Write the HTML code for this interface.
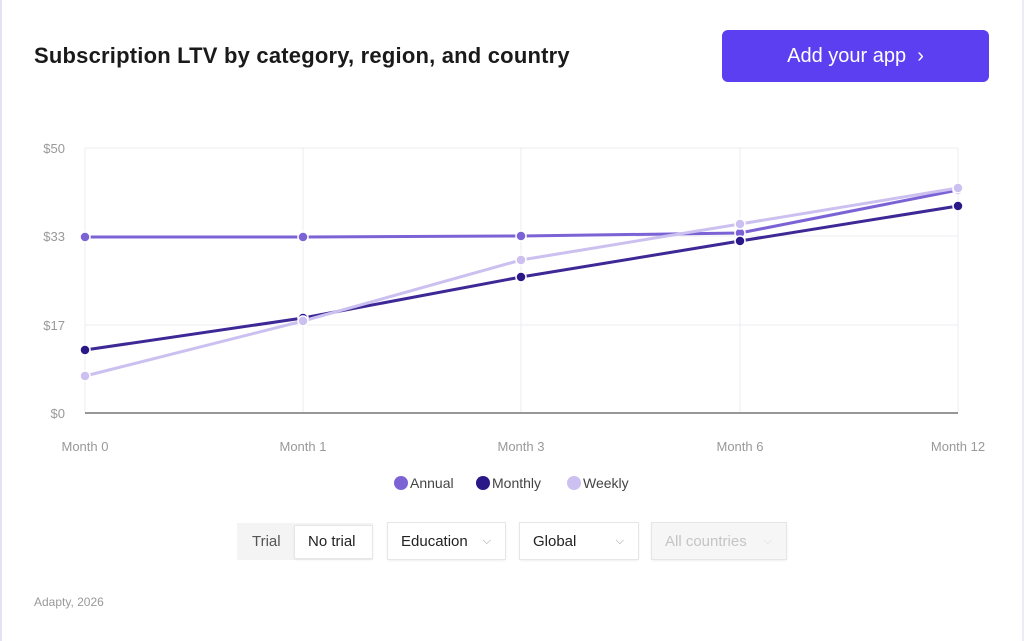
<!DOCTYPE html>
<html><head><style>
body{margin:0;width:1024px;height:641px;background:#fff;font-family:"Liberation Sans",sans-serif;position:relative;overflow:hidden}
.t{position:absolute;left:34px;top:43px;font-size:22px;font-weight:bold;color:#1a1a1a;letter-spacing:0.2px}
.btn{position:absolute;left:722px;top:30px;width:267px;height:52px;background:#5b3ff0;border-radius:6px;color:#fff;font-size:20px;text-align:center;line-height:52px}
.ctl{position:absolute;top:523px;height:36px;line-height:37px;font-size:15px;color:#222;background:#fff;box-shadow:0 0 0 1px #e6e6e6,0 1px 3px rgba(0,0,0,.12);box-sizing:border-box;padding-left:13px}
.chev{position:absolute;right:14px;top:0;color:#999;font-size:11px}
.lg{position:absolute;top:475px;font-size:14px;color:#444}
.dot{display:inline-block;width:14px;height:14px;border-radius:50%;vertical-align:-2px;margin-right:2px}
</style></head><body>
<div style="position:absolute;left:0;top:0;width:2px;height:641px;background:#e6e2f5"></div>
<div style="position:absolute;right:0;top:0;width:2px;height:641px;background:#eeeaf8"></div>
<div class="t">Subscription LTV by category, region, and country</div>
<div class="btn">Add your app &nbsp;›</div>
<svg width="1024" height="641" style="position:absolute;left:0;top:0" font-family="Liberation Sans" font-size="13" fill="#999">
<g stroke="#ececf0" stroke-width="1">
<line x1="85" y1="148" x2="958" y2="148"/><line x1="85" y1="236" x2="958" y2="236"/><line x1="85" y1="325" x2="958" y2="325"/>
<line x1="85" y1="148" x2="85" y2="413"/><line x1="303" y1="148" x2="303" y2="413"/><line x1="521" y1="148" x2="521" y2="413"/><line x1="740" y1="148" x2="740" y2="413"/><line x1="958" y1="148" x2="958" y2="413"/>
</g>
<line x1="85" y1="413" x2="958" y2="413" stroke="#777" stroke-width="1.5"/>
<g text-anchor="end"><text x="65" y="153">$50</text><text x="65" y="241">$33</text><text x="65" y="330">$17</text><text x="65" y="418">$0</text></g>
<g text-anchor="middle"><text x="85" y="451">Month 0</text><text x="303" y="451">Month 1</text><text x="521" y="451">Month 3</text><text x="740" y="451">Month 6</text><text x="958" y="451">Month 12</text></g>
<g fill="none" stroke-width="3">
<polyline stroke="#7b63d6" points="85,237 303,237 521,236 740,233 958,190"/>
<polyline stroke="#3e2896" points="85,350 303,318 521,277 740,241 958,206"/>
<polyline stroke="#cbc0ef" points="85,376 303,321 521,260 740,224 958,188"/>
</g>
<g stroke="#fff" stroke-width="1.5">
<g fill="#7b63d6"><circle cx="85" cy="237" r="5"/><circle cx="303" cy="237" r="5"/><circle cx="521" cy="236" r="5"/><circle cx="740" cy="233" r="5"/><circle cx="958" cy="190" r="5"/></g>
<g fill="#2b1888"><circle cx="85" cy="350" r="5"/><circle cx="303" cy="318" r="5"/><circle cx="521" cy="277" r="5"/><circle cx="740" cy="241" r="5"/><circle cx="958" cy="206" r="5"/></g>
<g fill="#cbc0ef"><circle cx="85" cy="376" r="5"/><circle cx="303" cy="321" r="5"/><circle cx="521" cy="260" r="5"/><circle cx="740" cy="224" r="5"/><circle cx="958" cy="188" r="5"/></g>
</g>
</svg>
<div class="lg" style="left:394px"><span class="dot" style="background:#7b63d6"></span>Annual</div>
<div class="lg" style="left:476px"><span class="dot" style="background:#2b1888"></span>Monthly</div>
<div class="lg" style="left:567px"><span class="dot" style="background:#cbc0ef"></span>Weekly</div>
<div style="position:absolute;left:237px;top:523px;width:136px;height:37px;background:#f4f4f4"></div>
<div style="position:absolute;left:252px;top:523px;line-height:37px;font-size:15px;color:#555">Trial</div>
<div class="ctl" style="left:295px;top:526px;height:32px;line-height:32px;width:77px">No trial</div>
<div class="ctl" style="left:388px;width:117px">Education<span class="chev">⌵</span></div>
<div class="ctl" style="left:520px;width:118px">Global<span class="chev">⌵</span></div>
<div class="ctl" style="left:652px;width:134px;background:#f6f6f6;color:#c4c4c4">All countries<span class="chev" style="color:#ddd">⌵</span></div>
<div style="position:absolute;left:34px;top:595px;font-size:12px;color:#999">Adapty, 2026</div>
</body></html>
